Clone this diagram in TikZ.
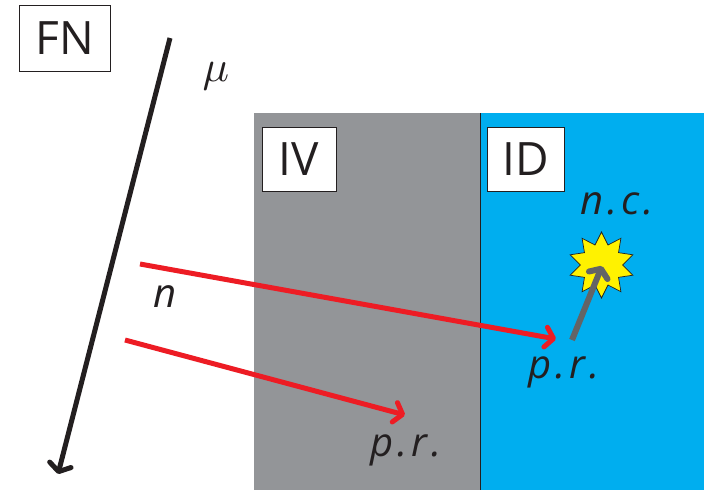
\documentclass[tikz,border=0pt]{standalone}
\usepackage{fontspec}
\setmainfont{Open Sans}
\usetikzlibrary{arrows.meta,shapes.geometric}
\definecolor{txt}{HTML}{231F20}
\definecolor{grayzone}{HTML}{939598}
\definecolor{bluezone}{HTML}{00AEEF}
\definecolor{redarrow}{HTML}{ED1C24}
\definecolor{greyarrow}{HTML}{636466}
\definecolor{staryellow}{HTML}{FFF200}
\tikzset{
  zone/.style={draw=none,minimum height=377pt,inner sep=0pt,outer sep=0pt,anchor=north west},
  labelbox/.style={draw=txt,line width=0.8pt,fill=white,text=txt,inner sep=0pt,outer sep=0pt,font=\fontsize{46}{46}\selectfont},
  ital/.style={text=txt,inner sep=0pt,font=\itshape\fontsize{40}{40}\selectfont},
  redtrack/.style={draw=redarrow,line width=5pt,-{Straight Barb[length=8pt,width=20pt,round]}},
  greytrack/.style={draw=greyarrow,line width=6pt,-{Straight Barb[length=7pt,width=20pt,round]}},
  blacktrack/.style={draw=txt,line width=5pt,-{Straight Barb[length=7pt,width=22pt,round]}},
  flash/.style={star,star points=10,star point ratio=1.57,draw=txt,line width=0.7pt,fill=staryellow,minimum size=66pt,inner sep=0pt},
}
\begin{document}
\begin{tikzpicture}[x=1pt,y=-1pt]
\useasboundingbox (0,0) rectangle (704,490);
\fill[white] (0,0) rectangle (704,490);
\node[zone,fill=grayzone,minimum width=226pt] (iv) at (254,113) {};
\node[zone,fill=bluezone,minimum width=224pt] (id) at (480,113) {};
\draw[txt,line width=0.8pt] (id.north west) -- (id.south west);

\node[labelbox,minimum width=91pt,minimum height=66pt] (fn) at (64.5,38) {FN};
\node[labelbox,minimum width=74pt,minimum height=64pt] (ivl) at (299,159) {IV};
\node[labelbox,minimum width=77pt,minimum height=64pt] (idl) at (525.5,159) {ID};

\node[text=txt,inner sep=0pt,scale=4.4] (mu) at (216,76) {$\mu$};
\node[ital] (n) at (165,297) {n};
\node[ital] (nc) at (617,204) {n\hspace{4pt}.\hspace{4pt}c\hspace{4pt}.};
\node[ital] (pr1) at (564,372) {p\hspace{4pt}.\hspace{4pt}r\hspace{4pt}.};
\node[ital] (pr2) at (406,450) {p\hspace{4pt}.\hspace{4pt}r\hspace{4pt}.};

\node[flash] (star) at (601.5,265) {};

\coordinate (m0) at (170,38);
\coordinate (m1) at (58,474);
\coordinate (a0) at (140,264);
\coordinate (a1) at (556,339);
\coordinate (b0) at (125,340);
\coordinate (b1) at (405,415);
\coordinate (c0) at (572,340);
\coordinate (c1) at (602,266);

\draw[blacktrack] (m0) -- (m1);
\draw[redtrack] (a0) -- (a1);
\draw[redtrack] (b0) -- (b1);
\draw[greytrack] (c0) -- (c1);
\end{tikzpicture}
\end{document}
